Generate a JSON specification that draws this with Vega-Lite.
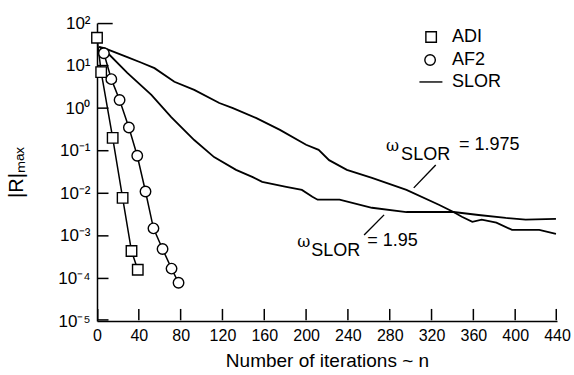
{
  "$schema": "https://vega.github.io/schema/vega-lite/v6.json",
  "width": 460,
  "height": 298,
  "autosize": "none",
  "padding": {"left": 97, "top": 23, "right": 17, "bottom": 54},
  "background": "white",
  "config": {
    "view": {"stroke": null},
    "font": "Liberation Sans",
    "axis": {"grid": false, "ticks": false, "domainColor": "black", "domainWidth": 1.5, "labelColor": "black", "titleColor": "black", "labelFont": "Liberation Sans", "titleFont": "Liberation Sans", "titleFontWeight": "normal", "labelFlush": false}
  },
  "datasets": {
    "slor": [
      {"omega": "1.975", "n": 2, "r": 27.5},
      {"omega": "1.975", "n": 7, "r": 25.7},
      {"omega": "1.975", "n": 29, "r": 15.8},
      {"omega": "1.975", "n": 42, "r": 11.8},
      {"omega": "1.975", "n": 55, "r": 8.7},
      {"omega": "1.975", "n": 74, "r": 4.17},
      {"omega": "1.975", "n": 93, "r": 2.69},
      {"omega": "1.975", "n": 117, "r": 1.32},
      {"omega": "1.975", "n": 130, "r": 1.0},
      {"omega": "1.975", "n": 152, "r": 0.589},
      {"omega": "1.975", "n": 175, "r": 0.309},
      {"omega": "1.975", "n": 200, "r": 0.138},
      {"omega": "1.975", "n": 212, "r": 0.105},
      {"omega": "1.975", "n": 222, "r": 0.06},
      {"omega": "1.975", "n": 239, "r": 0.0355},
      {"omega": "1.975", "n": 263, "r": 0.0229},
      {"omega": "1.975", "n": 296, "r": 0.012},
      {"omega": "1.975", "n": 327, "r": 0.00537},
      {"omega": "1.975", "n": 341, "r": 0.00363},
      {"omega": "1.975", "n": 349, "r": 0.00282},
      {"omega": "1.975", "n": 359, "r": 0.00214},
      {"omega": "1.975", "n": 368, "r": 0.0024},
      {"omega": "1.975", "n": 382, "r": 0.00204},
      {"omega": "1.975", "n": 397, "r": 0.00138},
      {"omega": "1.975", "n": 410, "r": 0.00138},
      {"omega": "1.975", "n": 423, "r": 0.00138},
      {"omega": "1.975", "n": 439, "r": 0.00112},
      {"omega": "1.95", "n": 2, "r": 27.5},
      {"omega": "1.95", "n": 10, "r": 20},
      {"omega": "1.95", "n": 29, "r": 6.76},
      {"omega": "1.95", "n": 52, "r": 2.04},
      {"omega": "1.95", "n": 71, "r": 0.617},
      {"omega": "1.95", "n": 93, "r": 0.178},
      {"omega": "1.95", "n": 112, "r": 0.0708},
      {"omega": "1.95", "n": 133, "r": 0.0355},
      {"omega": "1.95", "n": 149, "r": 0.024},
      {"omega": "1.95", "n": 158, "r": 0.0186},
      {"omega": "1.95", "n": 181, "r": 0.0141},
      {"omega": "1.95", "n": 196, "r": 0.012},
      {"omega": "1.95", "n": 206, "r": 0.0083},
      {"omega": "1.95", "n": 211, "r": 0.00708},
      {"omega": "1.95", "n": 232, "r": 0.00708},
      {"omega": "1.95", "n": 263, "r": 0.00457},
      {"omega": "1.95", "n": 296, "r": 0.00363},
      {"omega": "1.95", "n": 341, "r": 0.00363},
      {"omega": "1.95", "n": 365, "r": 0.00309},
      {"omega": "1.95", "n": 391, "r": 0.00263},
      {"omega": "1.95", "n": 410, "r": 0.0024},
      {"omega": "1.95", "n": 439, "r": 0.00251}
    ],
    "pts": [
      {"method": "ADI", "n": 0, "r": 45},
      {"method": "ADI", "n": 4, "r": 7},
      {"method": "ADI", "n": 15, "r": 0.2},
      {"method": "ADI", "n": 24.5, "r": 0.0078},
      {"method": "ADI", "n": 33, "r": 0.00044},
      {"method": "ADI", "n": 39, "r": 0.00016},
      {"method": "AF2", "n": 6.6, "r": 19.5},
      {"method": "AF2", "n": 13.7, "r": 4.8},
      {"method": "AF2", "n": 21.6, "r": 1.55},
      {"method": "AF2", "n": 30.5, "r": 0.35},
      {"method": "AF2", "n": 38.5, "r": 0.076},
      {"method": "AF2", "n": 46.4, "r": 0.011},
      {"method": "AF2", "n": 54, "r": 0.0015},
      {"method": "AF2", "n": 62.7, "r": 0.00049},
      {"method": "AF2", "n": 71.3, "r": 0.00017},
      {"method": "AF2", "n": 78, "r": 0.000079}
    ],
    "ticklines": [
      {"id": "x0", "n": 0.7, "r": 0.0000104}, {"id": "x0", "n": 0.7, "r": 0.0000192},
      {"id": "x40", "n": 40, "r": 0.0000104}, {"id": "x40", "n": 40, "r": 0.0000192},
      {"id": "x80", "n": 80, "r": 0.0000104}, {"id": "x80", "n": 80, "r": 0.0000192},
      {"id": "x120", "n": 120, "r": 0.0000104}, {"id": "x120", "n": 120, "r": 0.0000192},
      {"id": "x160", "n": 160, "r": 0.0000104}, {"id": "x160", "n": 160, "r": 0.0000192},
      {"id": "x200", "n": 200, "r": 0.0000104}, {"id": "x200", "n": 200, "r": 0.0000192},
      {"id": "x240", "n": 240, "r": 0.0000104}, {"id": "x240", "n": 240, "r": 0.0000192},
      {"id": "x280", "n": 280, "r": 0.0000104}, {"id": "x280", "n": 280, "r": 0.0000192},
      {"id": "x320", "n": 320, "r": 0.0000104}, {"id": "x320", "n": 320, "r": 0.0000192},
      {"id": "x360", "n": 360, "r": 0.0000104}, {"id": "x360", "n": 360, "r": 0.0000192},
      {"id": "x400", "n": 400, "r": 0.0000104}, {"id": "x400", "n": 400, "r": 0.0000192},
      {"id": "x440", "n": 439.3, "r": 0.0000104}, {"id": "x440", "n": 439.3, "r": 0.0000192},
      {"id": "y-5", "n": 0.6, "r": 0.0000106}, {"id": "y-5", "n": 11, "r": 0.0000106},
      {"id": "y-4", "n": 0.6, "r": 0.0001}, {"id": "y-4", "n": 11, "r": 0.0001},
      {"id": "y-3", "n": 0.6, "r": 0.001}, {"id": "y-3", "n": 11, "r": 0.001},
      {"id": "y-2", "n": 0.6, "r": 0.01}, {"id": "y-2", "n": 11, "r": 0.01},
      {"id": "y-1", "n": 0.6, "r": 0.1}, {"id": "y-1", "n": 11, "r": 0.1},
      {"id": "y0", "n": 0.6, "r": 1}, {"id": "y0", "n": 11, "r": 1},
      {"id": "y1", "n": 0.6, "r": 10}, {"id": "y1", "n": 11, "r": 10},
      {"id": "y2", "n": 0.6, "r": 97}, {"id": "y2", "n": 15, "r": 97}
    ],
    "segs": [
      {"n": 308.4, "r": 4.12, "n2": 330.4, "r2": 4.12},
      {"n": 324, "r": 0.0464, "n2": 303, "r2": 0.0134},
      {"n": 274.6, "r": 0.00311, "n2": 255.5, "r2": 0.00105}
    ],
    "legsym": [
      {"method": "ADI", "n": 319.6, "r": 46.9},
      {"method": "AF2", "n": 318.6, "r": 13.5}
    ],
    "labels": [
      {"n": 339.6, "r": 46.9, "t": "ADI", "k": "legend"},
      {"n": 339.6, "r": 13.5, "t": "AF2", "k": "legend"},
      {"n": 339.6, "r": 4.12, "t": "SLOR", "k": "legend"},
      {"n": 290.9, "r": 0.0796, "t": "SLOR", "k": "sub"},
      {"n": 205, "r": 0.00043, "t": "SLOR", "k": "sub"},
      {"n": 346.3, "r": 0.1368, "t": "= 1.975", "k": "val"},
      {"n": 258.4, "r": 0.00076, "t": "= 1.95", "k": "val"}
    ],
    "omegas": [
      {"n": 276.5, "r": 0.1297, "t": "ω"},
      {"n": 191.6, "r": 0.00072, "t": "ω"}
    ]
  },
  "encoding": {
    "x": {"field": "n", "type": "quantitative", "scale": {"domain": [0, 440], "nice": false}, "axis": {"values": [0, 40, 80, 120, 160, 200, 240, 280, 320, 360, 400, 440], "labelPadding": 6, "labelFontSize": 16, "title": "Number of iterations ~ n", "titleFontSize": 19, "titlePadding": 8}},
    "y": {"field": "r", "type": "quantitative", "scale": {"type": "log", "domain": [0.00001, 100], "nice": false}, "axis": {"values": [0.00001, 0.0001, 0.001, 0.01, 0.1, 1, 10, 100], "labelPadding": 7, "labelFontSize": 17, "labelExpr": "'10' + ['⁻⁵','⁻⁴','⁻³','⁻²','⁻¹','⁰','¹','²'][round(log(datum.value)/LN10)+5]", "title": "|R|ₘₐₓ", "titleFontSize": 20, "titlePadding": 31}}
  },
  "layer": [
    {
      "data": {"name": "ticklines"},
      "mark": {"type": "line", "color": "black", "strokeWidth": 1.5},
      "encoding": {"detail": {"field": "id"}}
    },
    {
      "data": {"name": "segs"},
      "mark": {"type": "rule", "color": "black", "strokeWidth": 1.4},
      "encoding": {"x2": {"field": "n2"}, "y2": {"field": "r2"}}
    },
    {
      "data": {"name": "slor"},
      "mark": {"type": "line", "color": "black", "strokeWidth": 1.8},
      "encoding": {"detail": {"field": "omega"}}
    },
    {
      "data": {"name": "pts"},
      "mark": {"type": "line", "color": "black", "strokeWidth": 1.5},
      "encoding": {"detail": {"field": "method"}}
    },
    {
      "data": {"name": "pts"},
      "mark": {"type": "point", "filled": true, "fill": "white", "stroke": "black", "strokeWidth": 1.4, "opacity": 1, "size": 110},
      "encoding": {
        "shape": {"field": "method", "type": "nominal", "scale": {"domain": ["ADI", "AF2"], "range": ["square", "circle"]}, "legend": null}
      }
    },
    {
      "data": {"name": "legsym"},
      "mark": {"type": "point", "filled": true, "fill": "white", "stroke": "black", "strokeWidth": 1.4, "opacity": 1, "size": 110},
      "encoding": {
        "shape": {"field": "method", "type": "nominal", "legend": null}
      }
    },
    {
      "data": {"name": "omegas"},
      "mark": {"type": "text", "align": "left", "baseline": "middle", "fontSize": 16, "color": "black", "font": "DejaVu Serif"},
      "encoding": {"text": {"field": "t"}}
    },
    {
      "data": {"name": "labels"},
      "mark": {"type": "text", "align": "left", "baseline": "middle", "color": "black"},
      "encoding": {"text": {"field": "t"}, "size": {"field": "k", "type": "nominal", "scale": {"domain": ["legend", "sub", "val"], "range": [18, 18, 17]}, "legend": null}}
    }
  ]
}
